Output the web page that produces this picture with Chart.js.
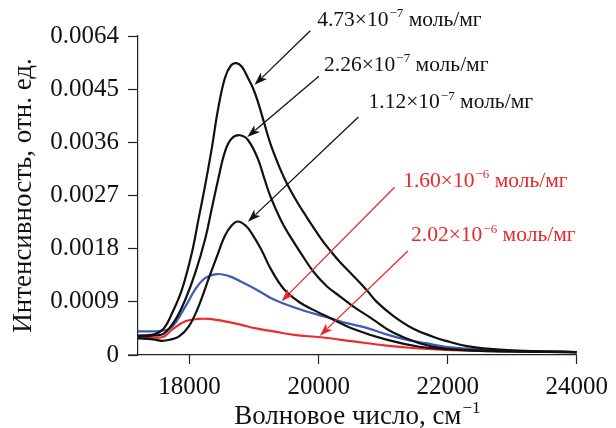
<!DOCTYPE html>
<html>
<head>
<meta charset="utf-8">
<script src="https://cdn.jsdelivr.net/npm/chart.js@4.4.1/dist/chart.umd.min.js"></script>
<style>
  html, body { margin: 0; padding: 0; background: #fff; }
</style>
</head>
<body>
<canvas id="spectraChart" width="616" height="428"></canvas>
<script>
// wave number, cm-1 / intensity, rel. units
const wave473 = [17200, 17450, 17600, 17729, 17882, 18035, 18138, 18240, 18342, 18444, 18547, 18640, 18725, 18810, 18904, 18981, 19058, 19160, 19261, 19415, 19517, 19650, 19775, 20030, 20185, 20340, 20545, 20750, 20900, 21160, 21460, 21770, 21970, 22300, 22700, 23200, 24000];
const int473 = [0.00033, 0.00035, 0.00045, 0.00071, 0.00111, 0.00173, 0.0023, 0.00287, 0.00349, 0.00418, 0.00469, 0.0049, 0.00494, 0.00488, 0.00469, 0.00452, 0.00429, 0.00391, 0.00355, 0.00312, 0.00288, 0.00262, 0.0024, 0.00198, 0.00176, 0.00156, 0.00133, 0.00109, 0.0009, 0.00066, 0.00045, 0.00031, 0.00024, 0.00015, 0.0001, 0.00007, 0.00005];

const wave226 = [17200, 17450, 17600, 17781, 17934, 18087, 18240, 18342, 18444, 18547, 18648, 18777, 18904, 19058, 19160, 19261, 19415, 19517, 19721, 19926, 20130, 20334, 20540, 20846, 21153, 21560, 21969, 22400, 23000, 24000];
const int226 = [0.00031, 0.00033, 0.00036, 0.0006, 0.00094, 0.00139, 0.00196, 0.00247, 0.00298, 0.00344, 0.00366, 0.00372, 0.00364, 0.00332, 0.00298, 0.00266, 0.00228, 0.00208, 0.00173, 0.0014, 0.00116, 0.00099, 0.00082, 0.0006, 0.00038, 0.0002, 0.00011, 0.00008, 0.00006, 0.00005];

const wave112 = [17200, 17400, 17570, 17700, 17831, 17985, 18138, 18291, 18444, 18547, 18648, 18751, 18878, 18955, 19108, 19261, 19467, 19722, 19926, 20130, 20540, 21050, 21560, 21970, 22500, 23000, 24000];
const int112 = [0.00028, 0.00027, 0.00024, 0.00026, 0.00031, 0.00048, 0.00082, 0.00128, 0.00173, 0.00202, 0.00219, 0.00226, 0.00218, 0.00207, 0.00179, 0.00145, 0.00111, 0.00088, 0.00076, 0.00065, 0.00044, 0.00026, 0.00014, 0.0001, 0.00007, 0.00006, 0.00005];

const wave160 = [17200, 17570, 17729, 17934, 18087, 18240, 18419, 18600, 18800, 19031, 19250, 19415, 19773, 20130, 20437, 20745, 21050, 21360, 21660, 21970, 22500, 23000, 24000];
const int160 = [0.0004, 0.00041, 0.00048, 0.00082, 0.00111, 0.0013, 0.00137, 0.00134, 0.00124, 0.00111, 0.00097, 0.00089, 0.00075, 0.00064, 0.00054, 0.00046, 0.00035, 0.00026, 0.0002, 0.00014, 0.0001, 0.00007, 0.00005];

const wave202 = [17200, 17570, 17729, 17934, 18138, 18291, 18547, 18802, 19031, 19300, 19620, 20030, 20540, 21050, 21560, 21970, 22500, 23000, 24000];
const int202 = [0.00032, 0.0003, 0.00043, 0.00057, 0.00061, 0.00061, 0.00057, 0.00051, 0.00045, 0.0004, 0.00034, 0.0003, 0.00023, 0.00016, 0.00011, 0.000085, 0.00007, 0.00006, 0.00005];

const xTickValues = [18000, 20000, 22000, 24000];
const yTickValues = [0, 0.0009, 0.0018, 0.0027, 0.0036, 0.0045, 0.0054];
// the top label of the original figure reads 0.0064
const yTickLabels = ['0', '0.0009', '0.0018', '0.0027', '0.0036', '0.0045', '0.0064'];

// concentration labels, mol/mg
const noteMantissa = ['4.73', '2.26', '1.12', '1.60', '2.02'];
const noteExponent = ['−7', '−7', '−7', '−6', '−6'];
const noteColors = ['#111', '#111', '#111', '#e8272a', '#e8272a'];
const noteAt = [[19977, 0.005574], [20084, 0.004807], [20774, 0.004176], [21310, 0.002847], [21433, 0.001926]];
const arrowFrom = [[19870, 0.00549], [20003, 0.00472], [20616, 0.00403], [21177, 0.00284], [21383, 0.00176]];
const arrowTo = [[19007, 0.004573], [18894, 0.00369], [18904, 0.002255], [19425, 0.000909], [20018, 0.000324]];

const serif = "'Liberation Serif', 'Times New Roman', serif";

function toPoints(xs, ys) {
    return xs.map((x, i) => ({ x: x, y: ys[i] }));
}

function lineSet(label, xs, ys, color) {
    return {
        label: label,
        data: toPoints(xs, ys),
        borderColor: color,
        borderWidth: 2.2,
        pointRadius: 0,
        fill: false,
        tension: 0.4
    };
}

// text with a raised exponent
function drawRich(ctx, x, y, base, sup, tail, size, color, center) {
    const supSize = Math.round(size * 0.62);
    ctx.font = size + 'px ' + serif;
    const w1 = ctx.measureText(base).width;
    const w3 = ctx.measureText(tail).width;
    ctx.font = supSize + 'px ' + serif;
    const w2 = ctx.measureText(sup).width;
    let left = center ? x - (w1 + w2 + w3 + 1) / 2 : x;
    ctx.fillStyle = color;
    ctx.textBaseline = 'alphabetic';
    ctx.textAlign = 'left';
    ctx.font = size + 'px ' + serif;
    ctx.fillText(base, left, y);
    ctx.font = supSize + 'px ' + serif;
    ctx.fillText(sup, left + w1 + 1, y - size * 0.4);
    ctx.font = size + 'px ' + serif;
    ctx.fillText(tail, left + w1 + w2 + 1, y);
}

function drawArrow(ctx, x0, y0, x1, y1, color) {
    const ang = Math.atan2(y1 - y0, x1 - x0);
    const len = 13, half = 4.5;
    ctx.strokeStyle = color;
    ctx.fillStyle = color;
    ctx.lineWidth = 1.3;
    ctx.beginPath();
    ctx.moveTo(x0, y0);
    ctx.lineTo(x1 - Math.cos(ang) * len * 0.8, y1 - Math.sin(ang) * len * 0.8);
    ctx.stroke();
    ctx.beginPath();
    ctx.moveTo(x1, y1);
    ctx.lineTo(x1 - Math.cos(ang) * len - Math.sin(ang) * half, y1 - Math.sin(ang) * len + Math.cos(ang) * half);
    ctx.lineTo(x1 - Math.cos(ang) * len * 0.75, y1 - Math.sin(ang) * len * 0.75);
    ctx.lineTo(x1 - Math.cos(ang) * len + Math.sin(ang) * half, y1 - Math.sin(ang) * len - Math.cos(ang) * half);
    ctx.closePath();
    ctx.fill();
}

const notesPlugin = {
    id: 'notes',
    afterDraw(chart) {
        const { ctx, chartArea } = chart;
        const xs = chart.scales.x, ys = chart.scales.y;
        ctx.save();
        // x axis line runs a little past the y axis
        ctx.strokeStyle = '#222';
        ctx.lineWidth = 1.2;
        ctx.beginPath();
        ctx.moveTo(chartArea.left - 10, chartArea.bottom);
        ctx.lineTo(chartArea.left, chartArea.bottom);
        ctx.stroke();

        noteMantissa.forEach((m, i) => {
            drawArrow(ctx,
                xs.getPixelForValue(arrowFrom[i][0]), ys.getPixelForValue(arrowFrom[i][1]),
                xs.getPixelForValue(arrowTo[i][0]), ys.getPixelForValue(arrowTo[i][1]),
                noteColors[i]);
            drawRich(ctx, xs.getPixelForValue(noteAt[i][0]), ys.getPixelForValue(noteAt[i][1]),
                m + '×10', noteExponent[i], ' моль/мг', 21.5, noteColors[i], false);
        });

        drawRich(ctx, (chartArea.left + chartArea.right) / 2, 424,
            'Волновое число, см', '−1', '', 27, '#111', true);
        ctx.restore();
    }
};

const ctx = document.getElementById('spectraChart').getContext('2d');
new Chart(ctx, {
    type: 'line',
    data: {
        datasets: [
            lineSet('4.73×10−7 моль/мг', wave473, int473, '#111'),
            lineSet('2.26×10−7 моль/мг', wave226, int226, '#111'),
            lineSet('1.12×10−7 моль/мг', wave112, int112, '#111'),
            lineSet('1.60×10−6 моль/мг', wave160, int160, '#3d5cb5'),
            lineSet('2.02×10−6 моль/мг', wave202, int202, '#ec2b2b')
        ]
    },
    options: {
        responsive: false,
        animation: false,
        devicePixelRatio: 1,
        layout: { padding: { top: 36, right: 34, left: 0, bottom: 0 } },
        plugins: { legend: { display: false }, tooltip: { enabled: false } },
        scales: {
            x: {
                type: 'linear',
                min: 17200,
                max: 24000,
                afterBuildTicks: (scale) => { scale.ticks = xTickValues.map(v => ({ value: v })); },
                afterFit: (scale) => { scale.height = 73; },
                border: { color: '#222', width: 1.2 },
                grid: { drawOnChartArea: false, drawTicks: true, tickLength: 9, tickColor: '#222', tickWidth: 1.2 },
                ticks: {
                    autoSkip: false,
                    maxRotation: 0,
                    padding: 8,
                    color: '#111',
                    font: { family: serif, size: 25 },
                    callback: (v) => String(v)
                }
            },
            y: {
                min: 0,
                max: 0.0054,
                afterBuildTicks: (scale) => { scale.ticks = yTickValues.map(v => ({ value: v })); },
                afterFit: (scale) => { scale.width = 138; },
                border: { color: '#222', width: 1.2 },
                grid: { drawOnChartArea: false, drawTicks: true, tickLength: 10, tickColor: '#222', tickWidth: 1.2 },
                ticks: {
                    autoSkip: false,
                    padding: 9,
                    color: '#111',
                    font: { family: serif, size: 25 },
                    callback: (v, i) => yTickLabels[i]
                },
                title: {
                    display: true,
                    text: 'Интенсивность, отн. ед.',
                    color: '#111',
                    font: { family: serif, size: 27, lineHeight: 1 },
                    padding: { top: 10, bottom: 0 }
                }
            }
        }
    },
    plugins: [notesPlugin]
});
</script>
</body>
</html>
